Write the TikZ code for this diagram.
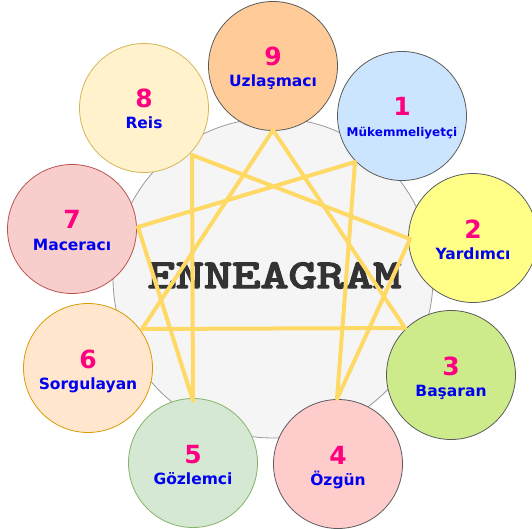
\documentclass[tikz,border=0pt]{standalone}
\usepackage{fontspec}
\setmainfont{DejaVu Sans}
\newfontfamily\slabfont{lmmono10-regular.otf}[AutoFakeBold=3.5]
\definecolor{greyfill}{HTML}{F5F5F5}
\definecolor{greyline}{HTML}{999999}
\definecolor{starline}{HTML}{FFD966}
\definecolor{numcol}{HTML}{FF0080}
\definecolor{labcol}{HTML}{0000F0}
\definecolor{darkline}{HTML}{5A5A5A}
\definecolor{titlecol}{HTML}{333333}
\definecolor{fnine}{HTML}{FFCC99}
\definecolor{fone}{HTML}{CCE5FF}
\definecolor{ftwo}{HTML}{FFFF88}
\definecolor{fthree}{HTML}{CDEB8B}
\definecolor{ffour}{HTML}{FFCCCC}
\definecolor{ffive}{HTML}{D5E8D4}
\definecolor{sfive}{HTML}{82B366}
\definecolor{fsix}{HTML}{FFE6CC}
\definecolor{ssix}{HTML}{D79B00}
\definecolor{fseven}{HTML}{F8CECC}
\definecolor{sseven}{HTML}{B85450}
\definecolor{feight}{HTML}{FFF2CC}
\definecolor{seight}{HTML}{D6B656}
\tikzset{
  typecircle/.style={circle, minimum size=129pt, inner sep=0pt, line width=0.8pt},
  numtext/.style={anchor=base, text=numcol, font=\fontsize{25}{25}\selectfont\bfseries, inner sep=0pt},
  labtext/.style={anchor=base, text=labcol, font=\fontsize{15.5}{15.5}\selectfont\bfseries, inner sep=0pt},
  starstroke/.style={draw=starline, line width=4pt, line cap=round, line join=round},
}
\begin{document}
\begin{tikzpicture}[x=1pt,y=-1pt]
\useasboundingbox (0,0) rectangle (532,529);
% central disc
\node[circle, minimum size=320pt, inner sep=0pt, fill=greyfill, draw=greyline, line width=0.8pt] (core) at (273,278) {};
\node[anchor=base, text=titlecol, font=\slabfont\fontsize{41}{41}\selectfont\bfseries, inner sep=0pt, xscale=1.31] (title) at (274.5,288) {ENNEAGRAM};
% outer circles
\node[typecircle, fill=fnine, draw=darkline] (c9) at (273,66) {};
\node[typecircle, fill=fone, draw=darkline] (c1) at (402,116) {};
\node[typecircle, fill=ftwo, draw=darkline] (c2) at (473,238) {};
\node[typecircle, fill=fthree, draw=darkline] (c3) at (451,375) {};
\node[typecircle, fill=ffour, draw=darkline] (c4) at (338,464) {};
\node[typecircle, fill=ffive, draw=sfive] (c5) at (193,463) {};
\node[typecircle, fill=fsix, draw=ssix] (c6) at (88,368) {};
\node[typecircle, fill=fseven, draw=sseven] (c7) at (72,229) {};
\node[typecircle, fill=feight, draw=seight] (c8) at (144,108) {};
% numbers and labels
\node[numtext] (n9) at (273,66) {9};
\node[labtext] (l9) at (273,87) {Uzlaşmacı};
\node[numtext] (n1) at (402,116) {1};
\node[labtext, font=\fontsize{12}{12}\selectfont\bfseries] (l1) at (402,137) {Mükemmeliyetçi};
\node[numtext] (n2) at (473,238) {2};
\node[labtext] (l2) at (473,259) {Yardımcı};
\node[numtext] (n3) at (451,375) {3};
\node[labtext] (l3) at (451,396) {Başaran};
\node[numtext] (n4) at (338,464) {4};
\node[labtext] (l4) at (338,485) {Özgün};
\node[numtext] (n5) at (193,463) {5};
\node[labtext] (l5) at (193,484) {Gözlemci};
\node[numtext] (n6) at (88,368) {6};
\node[labtext] (l6) at (88,389) {Sorgulayan};
\node[numtext] (n7) at (72,229) {7};
\node[labtext] (l7) at (72,250) {Maceracı};
\node[numtext] (n8) at (144,108) {8};
\node[labtext] (l8) at (144,129) {Reis};
% star points
\coordinate (p9) at (273,130);
\coordinate (p1) at (355,162);
\coordinate (p2) at (410,239);
\coordinate (p3) at (405,328);
\coordinate (p4) at (337,399);
\coordinate (p5) at (193,401);
\coordinate (p6) at (142,329);
\coordinate (p7) at (138,227);
\coordinate (p8) at (192,155);
\draw[starstroke] (p9) -- (p3) -- (p6) -- cycle;
\draw[starstroke] (p1) -- (p4) -- (p2) -- (p8) -- (p5) -- (p7) -- cycle;
\end{tikzpicture}
\end{document}
